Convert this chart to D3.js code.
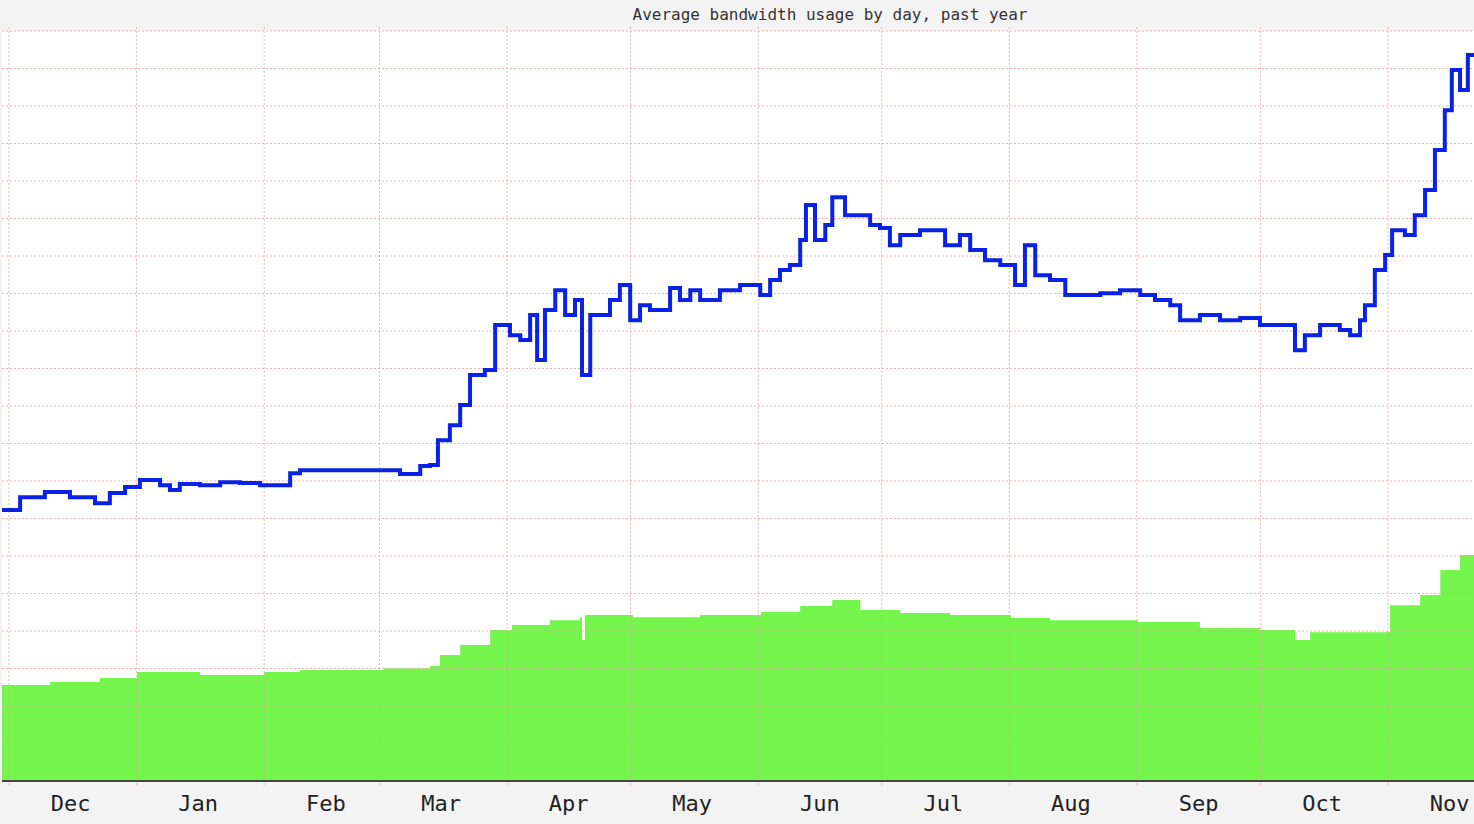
<!DOCTYPE html>
<html>
<head>
<meta charset="utf-8">
<script src="https://cdn.jsdelivr.net/npm/d3@7"></script>
<style>
body { margin: 0; background: #f3f3f3; overflow: hidden; }
</style>
</head>
<body>
<div id="chart"></div>
<script>
// days since Dec 1 and values
var blueDays = [-1.7,2.7,8.7,14.8,20.9,24.5,28.2,31.8,34.3,36.7,39.1,41.5,46.4,51.3,56.1,61,64.6,68.3,70.7,78,85.3,90.1,95,99.9,102.3,104.2,107.1,109.6,112,115.6,118.1,121.7,124.2,126.6,128.3,130.2,132.7,135.1,137.5,139.2,141.2,146,148.4,150.9,153.3,155.7,160.6,163,165.5,167.9,172.7,177.6,182.5,184.9,187.3,189.7,192.2,193.6,195.8,198.3,200,203.1,209.2,211.6,214,216.5,221.3,225,227.4,231,233.5,237.1,240.8,244.4,246.8,249.3,252.9,256.6,260.2,265.1,269.9,274.8,278.4,282.1,284.5,289.3,294.2,299.1,303.9,308.8,312.4,314.8,318.5,323.3,325.8,328.2,329.4,331.8,334.3,336,339.1,341.5,344,346.4,348.8,350.5,352.5,354.4,356];
var blueVals = [72.3,75.7,77.1,75.7,74.1,76.8,78.4,80.3,80.3,78.9,77.6,79.2,78.9,79.7,79.5,78.9,78.9,82.1,82.9,82.9,82.9,82.9,81.9,84,84.3,90.9,94.9,100.3,108.3,109.6,121.6,118.9,117.6,124.3,112.3,125.6,130.9,124.3,128.3,108.3,124.3,128.3,132.3,122.9,126.9,125.6,131.5,128.3,130.9,128.3,130.9,132.3,129.6,133.6,136.3,137.6,144.3,153.6,144.3,148.3,155.7,150.9,148.3,147.5,142.9,145.6,146.9,146.9,142.9,145.6,141.6,138.9,137.6,132.3,142.9,134.9,133.6,129.6,129.6,130.1,130.9,129.6,128.3,126.9,122.9,124.3,122.9,123.5,121.6,121.6,114.9,118.9,121.6,120.3,118.9,122.9,126.9,136.3,140.3,146.9,145.6,150.9,157.6,168.3,178.9,189.6,184.3,193.6,193.6];
var greenDays = [-1.7,10,22.1,31.1,46.4,62,70.7,91.1,102.3,104.7,109.6,116.9,122.2,131.4,138.7,139.2,139.9,151.6,167.9,182.7,192.2,200,206.8,216.5,228.6,243.4,252.9,274.3,289.3,303.9,312.4,316.1,325.8,335.5,342.8,347.7,352.5,356];
var greenVals = [25.6,26.4,27.5,29.1,28.3,29.1,29.6,30.1,30.7,33.6,36.3,40.3,41.6,42.9,43.7,37.6,44.3,43.7,44.3,45.1,46.7,48.3,45.6,44.8,44.3,43.5,42.9,42.4,40.8,40.3,37.6,39.7,39.7,46.9,49.6,56.3,60.3,60.3];
var monthLabels = ["Dec","Jan","Feb","Mar","Apr","May","Jun","Jul","Aug","Sep","Oct","Nov"];

var W = 1474, H = 824;
var plotLeft = 2, plotTop = 31, plotBottom = 781;
var start = new Date(2012, 11, 1);

var svg = d3.select("#chart").append("svg")
    .attr("width", W).attr("height", H);

svg.append("rect").attr("width", W).attr("height", H).attr("fill", "#f3f3f3");
svg.append("rect").attr("x", plotLeft).attr("y", plotTop)
    .attr("width", W - plotLeft).attr("height", plotBottom - plotTop).attr("fill", "#fff");

var x = d3.scaleTime()
    .domain([start, new Date(2013, 10, 1)])
    .range([9, 1388]);
var y = d3.scaleLinear().domain([0, 200]).range([plotBottom, plotTop]);

function dayDate(d) { return new Date(start.getTime() + d * 864e5); }

// title
svg.append("text").attr("x", 830).attr("y", 20).attr("text-anchor", "middle")
    .attr("font-family", "DejaVu Sans Mono").attr("font-size", 16).attr("fill", "#333")
    .text("Average bandwidth usage by day, past year");

var greenData = greenDays.map(function (d, i) { return [dayDate(d), greenVals[i]]; });
var blueData = blueDays.map(function (d, i) { return [dayDate(d), blueVals[i]]; });

svg.append("path").datum(greenData)
    .attr("fill", "#74f64c")
    .attr("d", d3.area().curve(d3.curveStepAfter)
        .x(function (d) { return x(d[0]); })
        .y0(plotBottom)
        .y1(function (d) { return y(d[1]); }));

// grid
var months = d3.timeMonth.range(new Date(2012, 11, 1), new Date(2013, 11, 1));
svg.append("g").selectAll("line").data(y.ticks(20)).enter().append("line")
    .attr("x1", plotLeft).attr("x2", W)
    .attr("y1", function (d) { return y(d); }).attr("y2", function (d) { return y(d); })
    .attr("stroke", "#e8a0a0").attr("stroke-opacity", 0.8).attr("stroke-dasharray", "2,2");
svg.append("g").selectAll("line").data(months).enter().append("line")
    .attr("x1", function (d) { return x(d); }).attr("x2", function (d) { return x(d); })
    .attr("y1", plotTop - 4).attr("y2", plotBottom + 6)
    .attr("stroke", "#e8a0a0").attr("stroke-opacity", 0.8).attr("stroke-dasharray", "2,2");

svg.append("path").datum(blueData)
    .attr("fill", "none").attr("stroke", "#0a22e6").attr("stroke-width", 4)
    .attr("d", d3.line().curve(d3.curveStepAfter)
        .x(function (d) { return x(d[0]); })
        .y(function (d) { return y(d[1]); }));

// x axis
svg.append("line").attr("x1", plotLeft).attr("x2", W).attr("y1", plotBottom).attr("y2", plotBottom)
    .attr("stroke", "#444").attr("stroke-width", 2);
svg.append("g").selectAll("text").data(months).enter().append("text")
    .attr("x", function (d) { return x(new Date(d.getFullYear(), d.getMonth(), 15)) + 4; })
    .attr("y", 811).attr("text-anchor", "middle")
    .attr("font-family", "DejaVu Sans Mono").attr("font-size", 22).attr("fill", "#222")
    .text(function (d, i) { return monthLabels[i]; });
</script>
</body>
</html>
